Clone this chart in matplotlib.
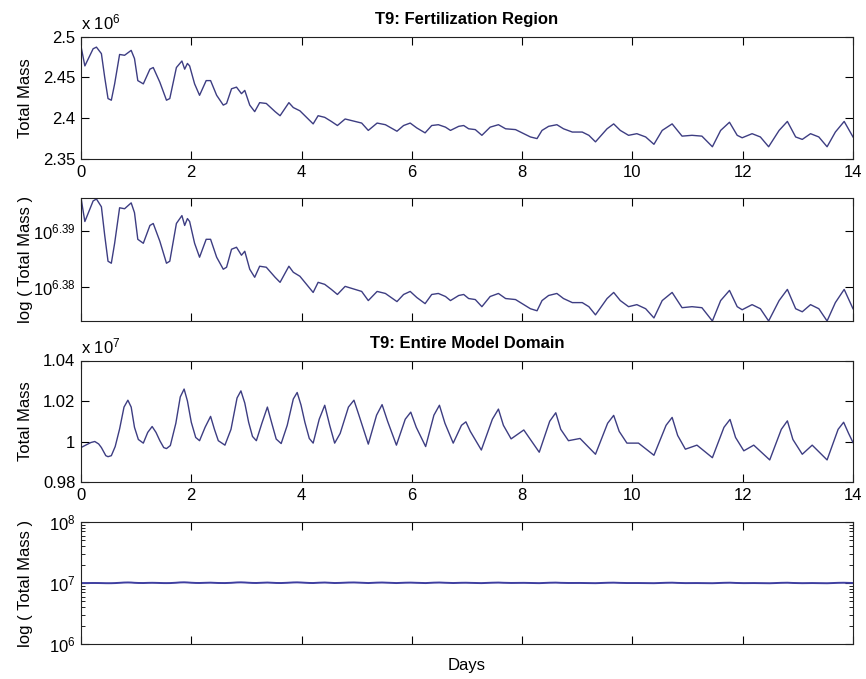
import numpy as np
import matplotlib
matplotlib.use("Agg")
import matplotlib.pyplot as plt
from matplotlib.ticker import FixedLocator, NullLocator, LogLocator, NullFormatter, FixedFormatter

plt.rcParams['font.family'] = ['Liberation Sans', 'DejaVu Sans']
plt.rcParams['mathtext.fontset'] = 'custom'
plt.rcParams['mathtext.rm'] = 'Liberation Sans'
plt.rcParams['mathtext.it'] = 'Liberation Sans'

# ---- Data: fertilization region (units of 1e6) ----
day_fert = [0.00, 0.07, 0.22, 0.28, 0.37, 0.43, 0.49, 0.55, 0.61, 0.70, 0.79, 0.85, 0.91, 0.97,
            1.03, 1.13, 1.25, 1.31, 1.43, 1.55, 1.61, 1.73, 1.83, 1.88, 1.93, 1.97, 2.06, 2.15,
            2.27, 2.35, 2.46, 2.58, 2.64, 2.73, 2.82, 2.91, 2.97, 3.06, 3.15, 3.24, 3.36, 3.52,
            3.61, 3.70, 3.77, 3.85, 3.97, 4.09, 4.21, 4.30, 4.42, 4.54, 4.65, 4.79, 4.97, 5.09,
            5.21, 5.37, 5.52, 5.73, 5.85, 5.97, 6.09, 6.24, 6.36, 6.48, 6.61, 6.70, 6.85, 6.94,
            7.03, 7.15, 7.27, 7.42, 7.57, 7.70, 7.88, 8.00, 8.15, 8.27, 8.36, 8.48, 8.63, 8.75,
            8.91, 9.09, 9.21, 9.33, 9.54, 9.66, 9.78, 9.93, 10.08, 10.24, 10.39, 10.54, 10.72,
            10.90, 11.08, 11.26, 11.45, 11.60, 11.76, 11.90, 11.99, 12.17, 12.32, 12.47, 12.66,
            12.81, 12.96, 13.08, 13.23, 13.38, 13.53, 13.68, 13.84, 14.00]
mass_fert = [2.488, 2.464, 2.485, 2.487, 2.479, 2.450, 2.424, 2.422, 2.442, 2.478, 2.477, 2.480, 2.483, 2.473,
             2.446, 2.442, 2.460, 2.462, 2.444, 2.422, 2.424, 2.462, 2.470, 2.460, 2.467, 2.464, 2.442, 2.428,
             2.446, 2.446, 2.428, 2.416, 2.418, 2.436, 2.438, 2.430, 2.434, 2.416, 2.408, 2.419, 2.418, 2.408,
             2.403, 2.412, 2.419, 2.413, 2.409, 2.401, 2.393, 2.403, 2.401, 2.396, 2.391, 2.399, 2.396, 2.394,
             2.385, 2.394, 2.392, 2.384, 2.391, 2.394, 2.388, 2.382, 2.391, 2.392, 2.389, 2.385, 2.390, 2.391,
             2.387, 2.386, 2.379, 2.389, 2.392, 2.387, 2.386, 2.382, 2.377, 2.375, 2.385, 2.390, 2.392, 2.387,
             2.383, 2.383, 2.379, 2.371, 2.387, 2.393, 2.385, 2.379, 2.381, 2.377, 2.368, 2.385, 2.393,
             2.378, 2.379, 2.378, 2.365, 2.385, 2.395, 2.379, 2.376, 2.381, 2.377, 2.365, 2.385,
             2.396, 2.377, 2.374, 2.381, 2.377, 2.365, 2.383, 2.396, 2.377]

# ---- Data: entire model domain (units of 1e7) ----
day_dom = [0.00, 0.07, 0.18, 0.25, 0.32, 0.37, 0.45, 0.49, 0.55, 0.62,
           0.70, 0.78, 0.85, 0.91, 0.97, 1.04, 1.13, 1.21, 1.29, 1.36,
           1.43, 1.50, 1.55, 1.62, 1.72, 1.80, 1.87, 1.93, 2.00, 2.08,
           2.15, 2.25, 2.35, 2.42, 2.49, 2.61, 2.72, 2.83, 2.90, 2.97,
           3.04, 3.11, 3.18, 3.28, 3.38, 3.46, 3.54, 3.63, 3.74, 3.85,
           3.92, 3.99, 4.06, 4.14, 4.21, 4.32, 4.42, 4.51, 4.60, 4.70,
           4.85, 4.95, 5.04, 5.21, 5.36, 5.46, 5.56, 5.72, 5.88, 5.98,
           6.08, 6.25, 6.40, 6.50, 6.60, 6.75, 6.90, 6.98, 7.06, 7.26,
           7.46, 7.57, 7.66, 7.80, 8.03, 8.31, 8.50, 8.61, 8.70, 8.84,
           9.05, 9.33, 9.55, 9.66, 9.76, 9.90, 10.11, 10.39, 10.61, 10.72,
           10.82, 10.96, 11.17, 11.45, 11.66, 11.77, 11.87, 12.02, 12.20, 12.49,
           12.70, 12.81, 12.91, 13.08, 13.26, 13.53, 13.73, 13.83, 13.92, 14.00]
mass_dom = [0.9970, 0.9980, 0.9995, 1.0000, 0.9988, 0.9970, 0.9930, 0.9925, 0.9930, 0.9975,
            1.0062, 1.0170, 1.0204, 1.0170, 1.0070, 1.0010, 0.9992, 1.0045, 1.0074, 1.0045,
            1.0004, 0.9970, 0.9965, 0.9980, 1.0090, 1.0220, 1.0259, 1.0200, 1.0095, 1.0020,
            1.0004, 1.0070, 1.0124, 1.0060, 1.0004, 0.9982, 1.0060, 1.0215, 1.0250, 1.0190,
            1.0095, 1.0025, 1.0004, 1.0090, 1.0170, 1.0090, 1.0012, 0.9990, 1.0080, 1.0210,
            1.0242, 1.0180, 1.0095, 1.0015, 0.9992, 1.0110, 1.0179, 1.0080, 0.9992, 1.0040,
            1.0170, 1.0204, 1.0130, 0.9987, 1.0130, 1.0182, 1.0100, 0.9982, 1.0110, 1.0145,
            1.0070, 0.9975, 1.0130, 1.0179, 1.0090, 0.9992, 1.0080, 1.0097, 1.0050, 0.9958,
            1.0110, 1.0160, 1.0080, 1.0013, 1.0057, 0.9947, 1.0100, 1.0142, 1.0060, 1.0004,
            1.0015, 0.9937, 1.0090, 1.0129, 1.0050, 0.9992, 0.9992, 0.9932, 1.0080, 1.0119,
            1.0030, 0.9962, 0.9982, 0.9920, 1.0070, 1.0109, 1.0020, 0.9954, 0.9982, 0.9909,
            1.0060, 1.0102, 1.0010, 0.9937, 0.9982, 0.9909, 1.0060, 1.0095, 1.0040, 0.9995]

xticks = [0, 2, 4, 6, 8, 10, 12, 14]
line_color = '#3d3d82'

W, H = 866, 679
fig = plt.figure(figsize=(W / 100, H / 100), dpi=100)

left = 81 / W
width = (853 - 81) / W

def add_ax(top_px, bot_px):
    return fig.add_axes([left, 1 - bot_px / H, width, (bot_px - top_px) / H])

ax1 = add_ax(36.5, 159)
ax2 = add_ax(198, 321)
ax3 = add_ax(360.5, 482)
ax4 = add_ax(522, 644)

fs = 12
for ax in (ax1, ax2, ax3, ax4):
    ax.set_xlim(0, 14)
    ax.xaxis.set_major_locator(FixedLocator(xticks))
    ax.tick_params(which='major', direction='in', top=True, right=True, length=6, width=0.8,
                   labelsize=fs, pad=4)
    ax.tick_params(which='minor', direction='in', top=True, right=True, length=3, width=0.6)
    for s in ax.spines.values():
        s.set_linewidth(0.8)
        s.set_color('#222222')

# Panel 1
f = np.array(mass_fert)
ax1.plot(day_fert, f, color=line_color, lw=1.0)
ax1.set_ylim(2.35, 2.5)
ax1.set_yticks([2.35, 2.4, 2.45, 2.5])
ax1.set_yticklabels(['2.35', '2.4', '2.45', '2.5'])
ax1.set_xticklabels([str(t) for t in xticks])
ax1.set_ylabel('Total Mass', fontsize=fs)
ax1.set_title('T9: Fertilization Region', fontsize=12, fontweight='bold', pad=9)
ax1.text(0.0, 1.03, r'x 10$^{6}$', transform=ax1.transAxes, fontsize=fs, ha='left', va='bottom')

# Panel 2
ax2.plot(day_fert, f * 1e6, color=line_color, lw=1.0)
ax2.set_yscale('log')
ax2.set_ylim(f.min() * 1e6, f.max() * 1e6)
ax2.yaxis.set_major_locator(FixedLocator([10 ** 6.38, 10 ** 6.39]))
ax2.yaxis.set_major_formatter(FixedFormatter([r'10$^{6.38}$', r'10$^{6.39}$']))
ax2.yaxis.set_minor_locator(NullLocator())
ax2.set_xticklabels([])
ax2.set_ylabel('log ( Total Mass )', fontsize=fs)

# Panel 3
d = np.array(mass_dom)
ax3.plot(day_dom, d, color=line_color, lw=1.0)
ax3.set_ylim(0.98, 1.04)
ax3.set_yticks([0.98, 1.0, 1.02, 1.04])
ax3.set_yticklabels(['0.98', '1', '1.02', '1.04'])
ax3.set_xticklabels([str(t) for t in xticks])
ax3.set_ylabel('Total Mass', fontsize=fs)
ax3.set_title('T9: Entire Model Domain', fontsize=12, fontweight='bold', pad=9)
ax3.text(0.0, 1.03, r'x 10$^{7}$', transform=ax3.transAxes, fontsize=fs, ha='left', va='bottom')

# Panel 4
ax4.plot(day_dom, d * 1e7, color='#3f3fa0', lw=1.4)
ax4.set_yscale('log')
ax4.set_ylim(1e6, 1e8)
ax4.yaxis.set_major_locator(FixedLocator([1e6, 1e7, 1e8]))
ax4.yaxis.set_major_formatter(FixedFormatter([r'10$^{6}$', r'10$^{7}$', r'10$^{8}$']))
ax4.yaxis.set_minor_locator(LogLocator(base=10, subs=np.arange(2, 10)))
ax4.yaxis.set_minor_formatter(NullFormatter())
ax4.set_xticklabels([])
ax4.set_ylabel('log ( Total Mass )', fontsize=fs)
ax4.set_xlabel('Days', fontsize=fs, labelpad=6)

for ax in (ax1, ax2, ax3, ax4):
    ax.yaxis.set_label_coords(-0.062, 0.5)

fig.savefig('out.png', dpi=100)
